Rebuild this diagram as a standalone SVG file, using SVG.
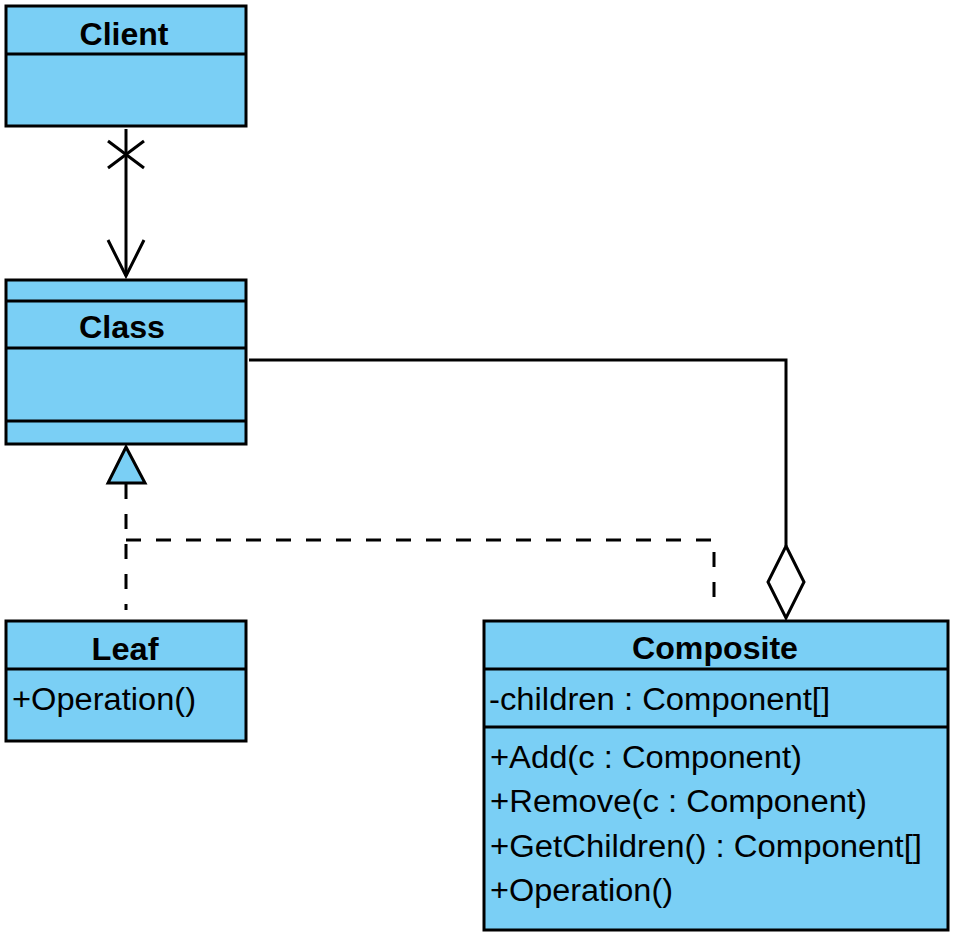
<svg xmlns="http://www.w3.org/2000/svg" width="960" height="942" viewBox="0 0 960 942">
<style>
.box{fill:#7ACFF5;stroke:#000;stroke-width:3}
.sep{stroke:#000;stroke-width:3}
.ttl{font-family:"Liberation Sans",Arial,sans-serif;font-weight:bold;font-size:31px;text-anchor:middle;fill:#000}
.mem{font-family:"Liberation Sans",Arial,sans-serif;font-size:31px;fill:#000}
.ln{fill:none;stroke:#000;stroke-width:3}
.dash{fill:none;stroke:#000;stroke-width:3;stroke-dasharray:15 15}
</style>
<rect width="960" height="942" fill="#fff"/>
<g id="connectors">
  <line class="ln" x1="126" y1="129" x2="126" y2="276"/>
  <line class="ln" x1="108" y1="141" x2="144" y2="168"/>
  <line class="ln" x1="144" y1="141" x2="108" y2="168"/>
  <polyline class="ln" points="108,240 126,276 144,240"/>
  <polyline class="ln" points="249,360 786,360 786,546"/>
  <polygon points="786,546 804,582 786,618 768,582" fill="#fff" stroke="#000" stroke-width="3"/>
  <line class="dash" x1="126" y1="484" x2="126" y2="610"/>
  <polyline class="dash" points="126,540 714,540 714,612"/>
  <polygon points="126,447 145,483 108,483" fill="#7ACFF5" stroke="#000" stroke-width="3"/>
</g>
<g id="client">
  <rect class="box" x="6" y="6" width="240" height="120"/>
  <line class="sep" x1="6" y1="54" x2="246" y2="54"/>
  <text class="ttl" x="124" y="45" textLength="89" lengthAdjust="spacingAndGlyphs">Client</text>
</g>
<g id="class">
  <rect class="box" x="6" y="280" width="240" height="164"/>
  <line class="sep" x1="6" y1="301" x2="246" y2="301"/>
  <line class="sep" x1="6" y1="348" x2="246" y2="348"/>
  <line class="sep" x1="6" y1="421" x2="246" y2="421"/>
  <text class="ttl" x="122" y="338" textLength="86" lengthAdjust="spacingAndGlyphs">Class</text>
</g>
<g id="leaf">
  <rect class="box" x="6" y="621" width="240" height="120"/>
  <line class="sep" x1="6" y1="669" x2="246" y2="669"/>
  <text class="ttl" x="125" y="660" textLength="67" lengthAdjust="spacingAndGlyphs">Leaf</text>
  <text class="mem" x="12" y="710" textLength="184" lengthAdjust="spacingAndGlyphs">+Operation()</text>
</g>
<g id="composite">
  <rect class="box" x="484" y="621" width="464" height="309"/>
  <line class="sep" x1="484" y1="669" x2="948" y2="669"/>
  <line class="sep" x1="484" y1="727" x2="948" y2="727"/>
  <text class="ttl" x="715" y="659" textLength="166" lengthAdjust="spacingAndGlyphs">Composite</text>
  <text class="mem" x="489" y="710" textLength="341" lengthAdjust="spacingAndGlyphs">-children : Component[]</text>
  <text class="mem" x="490" y="768" textLength="312" lengthAdjust="spacingAndGlyphs">+Add(c : Component)</text>
  <text class="mem" x="490" y="812" textLength="377" lengthAdjust="spacingAndGlyphs">+Remove(c : Component)</text>
  <text class="mem" x="490" y="857" textLength="432" lengthAdjust="spacingAndGlyphs">+GetChildren() : Component[]</text>
  <text class="mem" x="490" y="901" textLength="183" lengthAdjust="spacingAndGlyphs">+Operation()</text>
</g>
</svg>
